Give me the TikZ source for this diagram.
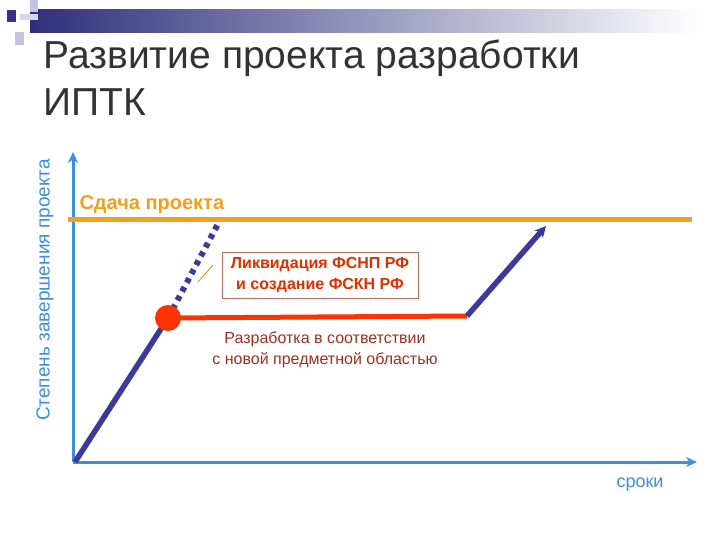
\documentclass[tikz,border=0pt]{standalone}
\usepackage{fontspec}
\setmainfont{Liberation Sans}
\usetikzlibrary{arrows.meta}
\definecolor{axisblue}{HTML}{3D8EE0}
\definecolor{navy}{HTML}{3A3A9A}
\definecolor{orng}{HTML}{F0A020}
\definecolor{redl}{HTML}{FF3300}
\definecolor{darkred}{HTML}{A03020}
\tikzset{axis/.style={axisblue,line width=3pt,-{Stealth[length=11pt,width=10pt]}},
 navyline/.style={navy,line width=5.5pt}}
\begin{document}
\begin{tikzpicture}[x=1pt,y=-1pt]
\useasboundingbox (0,0) rectangle (720,540);
\fill[white] (0,0) rectangle (720,540);
% header
\shade[left color=navy!80!black,right color=white] (30,10) rectangle (700,33);
\fill[navy!30] (30,0) rectangle (38,12);
\fill[navy!30] (15,32) rectangle (24,45);
\fill[navy!20] (20,14) rectangle (38,20);
\fill[navy!90!black] (7,10) rectangle (16,22);
% title
\node[anchor=west,font=\fontsize{39}{42}\selectfont,text=black!80] (t1) at (40,58) {Развитие проекта разработки};
\node[anchor=west,font=\fontsize{39}{42}\selectfont,text=black!80] (t2) at (40,102) {ИПТК};
% axes
\coordinate (o) at (73,462);
\coordinate (ytop) at (73,152);
\coordinate (xend) at (697,462);
\draw[axis] (o) -- (ytop);
\draw[axis] (o) -- (xend);
\node[rotate=90,text=axisblue,font=\fontsize{19}{21}\selectfont] (yl) at (45,290) {Степень завершения проекта};
\node[text=axisblue,font=\fontsize{18}{20}\selectfont] (xl) at (640,485) {сроки};
% finish line
\coordinate (f1) at (68,220); \coordinate (f2) at (692,220);
\draw[orng,line width=5pt] (f1) -- (f2);
\node[anchor=west,text=orng,font=\bfseries\fontsize{20}{22}\selectfont] (fl) at (76,205) {Сдача проекта};
% progress
\coordinate (s) at (75,462);
\coordinate (p) at (168,318);
\coordinate (d) at (219,222);
\coordinate (q) at (467,316);
\coordinate (e) at (546,226);
\draw[navyline] (s) -- (p);
\draw[navy,line width=6pt,dash pattern=on 5pt off 5pt] (p) -- (d);
\draw[redl,line width=5pt] (p) -- (q);
\draw[navyline,-{Stealth[length=11pt,width=11pt]}] (q) -- (e);
\fill[redl] (p) circle (13);
% box
\node[draw=darkred!70,line width=0.8pt,fill=white,minimum width=196pt,minimum height=46pt,align=center,text=redl!90!black,font=\bfseries\fontsize{16}{21}\selectfont] (box) at (320,275) {Ликвидация ФСНП РФ\\и создание ФСКН РФ};
\coordinate (l1) at (213,265); \coordinate (l2) at (198,282);
\draw[orng!80!red,line width=0.8pt] (l1) -- (l2);
\node[align=center,text=darkred,font=\fontsize{16}{21}\selectfont] (dev) at (325,350) {Разработка в соответствии\\с новой предметной областью};
\end{tikzpicture}
\end{document}
